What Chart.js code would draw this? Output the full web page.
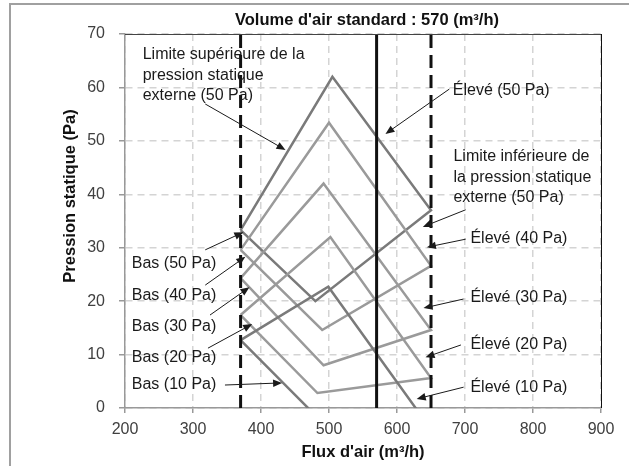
<!DOCTYPE html>
<html>
<head>
<meta charset="utf-8">
<script src="https://cdn.jsdelivr.net/npm/chart.js@4.4.1/dist/chart.umd.min.js"></script>
<style>
  html, body { margin: 0; padding: 0; background: #fff; }
  #wrap { position: relative; width: 629px; height: 466px; }
</style>
</head>
<body>
<div id="wrap"><canvas id="chart"></canvas></div>
<script>
// Axis ranges / ticks
const xMin = 200, xMax = 900, xStep = 100;
const yMin = 0, yMax = 70, yStep = 10;

// Airflow limits and standard volume (m³/h)
const flowLow = 370;
const flowHigh = 650;
const flowStd = 570;

// External static pressure settings (Pa)
const settings = [10, 20, 30, 40, 50];
const basPressure = [12.7, 17.4, 24.3, 29.6, 33.3];   // pressure at flowLow
const peakFlow = [499, 502, 492, 500, 505];
const peakPressure = [22.7, 32, 42, 53.4, 62];
const elevePressure = [-4, 5.6, 14.6, 26.6, 37];      // pressure at flowHigh
const troughFlow = [488, 483, 492, 490, 480];
const troughPressure = [-2.4, 2.8, 8, 14.6, 20];

// Annotations: text anchor, arrow start, arrow tip (data units)
const notes = [
  { lines: ['Limite supérieure de la', 'pression statique', 'externe (50 Pa)'], at: [226, 66.1], from: [318, 56.9], to: [436, 48.3] },
  { lines: ['Élevé (50 Pa)'], at: [682, 59.5], from: [677, 59.7], to: [583, 51.3] },
  { lines: ['Limite inférieure de', 'la pression statique', 'externe (50 Pa)'], at: [683, 47], from: [701, 37.1], to: [638, 33.9] },
  { lines: ['Élevé (40 Pa)'], at: [708, 31.8], from: [701, 31.6], to: [644, 30.1] },
  { lines: ['Élevé (30 Pa)'], at: [708, 20.6], from: [698, 20.4], to: [639, 18.7] },
  { lines: ['Élevé (20 Pa)'], at: [708, 11.8], from: [694, 11.8], to: [642, 9.5] },
  { lines: ['Élevé (10 Pa)'], at: [708, 3.9], from: [698, 3.9], to: [629, 1.7] },
  { lines: ['Bas (50 Pa)'], at: [210, 27.1], from: [318, 29.6], to: [374, 32.9] },
  { lines: ['Bas (40 Pa)'], at: [210, 21.1], from: [318, 23.0], to: [377, 28.3] },
  { lines: ['Bas (30 Pa)'], at: [210, 15.2], from: [325, 17.4], to: [383, 22.6] },
  { lines: ['Bas (20 Pa)'], at: [210, 9.5], from: [322, 11.2], to: [387, 15.7] },
  { lines: ['Bas (10 Pa)'], at: [210, 4.3], from: [347, 4.3], to: [431, 4.7] }
];

const FONT = "'Liberation Sans', Arial, sans-serif";
const curveColors = ['#7a7a7a', '#9a9a9a', '#9a9a9a', '#9a9a9a', '#7a7a7a'];

// vertical reference lines first so they sit on top
const datasets = [
  { label: 'Standard', data: [{ x: flowStd, y: yMin }, { x: flowStd, y: yMax }], borderColor: '#111', borderWidth: 3 },
  { label: 'Limite basse', data: [{ x: flowLow, y: yMin }, { x: flowLow, y: yMax }], borderColor: '#111', borderWidth: 3, borderDash: [13, 7] },
  { label: 'Limite haute', data: [{ x: flowHigh, y: yMin }, { x: flowHigh, y: yMax }], borderColor: '#111', borderWidth: 3, borderDash: [13, 7] }
];

// one closed loop per setting: Bas -> peak -> Élevé -> trough -> Bas
settings.forEach((s, i) => {
  datasets.push({
    label: s + ' Pa',
    data: [
      { x: flowLow, y: basPressure[i] },
      { x: peakFlow[i], y: peakPressure[i] },
      { x: flowHigh, y: elevePressure[i] },
      { x: troughFlow[i], y: troughPressure[i] },
      { x: flowLow, y: basPressure[i] }
    ],
    borderColor: curveColors[i],
    borderWidth: 2.5
  });
});

const decor = {
  id: 'decor',
  afterDraw(chart) {
    const { ctx, chartArea: a, scales: { x, y } } = chart;
    ctx.save();

    // outer frame (top + left)
    ctx.strokeStyle = '#a0a0a0';
    ctx.lineWidth = 2;
    ctx.beginPath();
    ctx.moveTo(629, 4);
    ctx.lineTo(10, 4);
    ctx.lineTo(10, 466);
    ctx.stroke();

    // plot top / right border
    ctx.lineWidth = 1;
    ctx.strokeStyle = '#444';
    ctx.beginPath();
    ctx.moveTo(a.left, a.top + 0.5);
    ctx.lineTo(a.right, a.top + 0.5);
    ctx.stroke();
    ctx.strokeStyle = '#111';
    ctx.beginPath();
    ctx.moveTo(a.right + 0.5, a.top);
    ctx.lineTo(a.right + 0.5, a.bottom);
    ctx.stroke();

    // titles
    ctx.fillStyle = '#111';
    ctx.font = 'bold 16.5px ' + FONT;
    ctx.textAlign = 'center';
    ctx.textBaseline = 'middle';
    ctx.fillText("Volume d'air standard : 570 (m³/h)", 367, 20);
    ctx.fillText("Flux d'air (m³/h)", 363, 452);
    ctx.save();
    ctx.translate(70, 196);
    ctx.rotate(-Math.PI / 2);
    ctx.fillText('Pression statique (Pa)', 0, 0);
    ctx.restore();

    // annotations
    ctx.font = '16px ' + FONT;
    ctx.textAlign = 'left';
    ctx.fillStyle = '#1a1a1a';
    ctx.strokeStyle = '#1a1a1a';
    notes.forEach(n => {
      const tx = x.getPixelForValue(n.at[0]);
      const ty = y.getPixelForValue(n.at[1]);
      n.lines.forEach((t, k) => ctx.fillText(t, tx, ty + k * 20.3));

      const x1 = x.getPixelForValue(n.from[0]), y1 = y.getPixelForValue(n.from[1]);
      const x2 = x.getPixelForValue(n.to[0]), y2 = y.getPixelForValue(n.to[1]);
      const ang = Math.atan2(y2 - y1, x2 - x1);
      const len = 9, hw = 3.8;
      ctx.lineWidth = 1;
      ctx.beginPath();
      ctx.moveTo(x1, y1);
      ctx.lineTo(x2 - Math.cos(ang) * len * 0.8, y2 - Math.sin(ang) * len * 0.8);
      ctx.stroke();
      ctx.beginPath();
      ctx.moveTo(x2, y2);
      ctx.lineTo(x2 - Math.cos(ang) * len - Math.sin(ang) * hw, y2 - Math.sin(ang) * len + Math.cos(ang) * hw);
      ctx.lineTo(x2 - Math.cos(ang) * len + Math.sin(ang) * hw, y2 - Math.sin(ang) * len - Math.cos(ang) * hw);
      ctx.closePath();
      ctx.fill();
    });
    ctx.restore();
  }
};

new Chart(document.getElementById('chart'), {
  type: 'line',
  data: { datasets },
  options: {
    responsive: true,
    maintainAspectRatio: false,
    animation: false,
    events: [],
    layout: { padding: { top: 34, right: 28, bottom: 0, left: 0 } },
    elements: {
      point: { radius: 0 },
      line: { tension: 0, borderJoinStyle: 'miter', borderCapStyle: 'butt' }
    },
    plugins: {
      legend: { display: false },
      tooltip: { enabled: false }
    },
    scales: {
      x: {
        type: 'linear',
        min: xMin,
        max: xMax,
        afterFit: s => { s.height = 58; },
        ticks: { stepSize: xStep, padding: 7, color: '#404040', font: { family: FONT, size: 16 } },
        grid: { color: '#d4d4d4', lineWidth: 1.5, tickLength: 5, tickColor: '#999', tickWidth: 1.5, tickBorderDash: [] },
        border: { color: '#999', width: 1.5, dash: [7, 5] }
      },
      y: {
        min: yMin,
        max: yMax,
        afterFit: s => { s.width = 125; },
        ticks: { stepSize: yStep, padding: 14, color: '#404040', font: { family: FONT, size: 16 } },
        grid: { color: '#d4d4d4', lineWidth: 1.5, tickLength: 6, tickColor: '#999', tickWidth: 1.5, tickBorderDash: [] },
        border: { color: '#999', width: 1.5, dash: [7, 5] }
      }
    }
  },
  plugins: [decor]
});
</script>
</body>
</html>
